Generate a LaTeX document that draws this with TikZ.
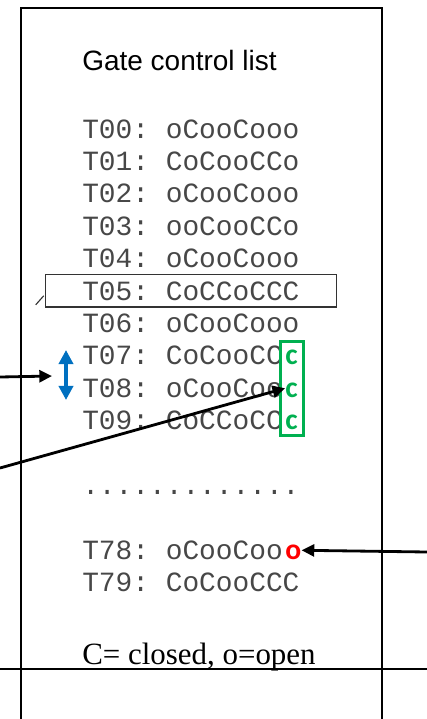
\documentclass[tikz,border=0pt]{standalone}
\usepackage{fontspec}
\setmainfont{Liberation Serif}
\setsansfont{Liberation Sans}
\setmonofont{Liberation Mono}
\newfontfamily\flagfont{Carlito}
\usetikzlibrary{positioning, arrows.meta, fit}

\definecolor{gclblue}{RGB}{0,112,192}
\definecolor{gclgreen}{RGB}{0,176,80}
\definecolor{gclred}{RGB}{255,0,0}

\begin{document}
\begin{tikzpicture}[
    x=0.025cm, y=-0.025cm,
    node distance=0.81cm,
    row/.style={
        anchor=base west,
        inner sep=0pt,
        text=black!72,
        font=\fontsize{19.8}{20}\selectfont\ttfamily
    },
    flag/.style={
        anchor=base west,
        inner sep=0pt,
        xshift=1.5pt,
        text height=13pt,
        font=\fontsize{21}{21}\selectfont\flagfont\bfseries
    },
    arrow/.style={-{Triangle[length=9pt, width=8.5pt]}, line width=2pt},
    swing/.style={{Triangle[length=10pt, width=10pt]}-{Triangle[length=10pt, width=10pt]}, line width=2.8pt, gclblue}
]
\useasboundingbox (0,0) rectangle (427,719);

% Frame
\draw[line width=1.4pt] (21,719) -- (21,8) -- (382,8) -- (382,719);
\draw[line width=1.4pt] (0,669) -- (427,669);

% Title
\node[anchor=base west, inner sep=0pt, font=\fontsize{19.9}{20}\selectfont\sffamily] (title) at (82,70) {Gate control list};

% List entries
\node[row] (t00) at (82,138) {T00: oCooCooo};
\node[below=of t00.base west, row] (t01) {T01: CoCooCCo};
\node[below=of t01.base west, row] (t02) {T02: oCooCooo};
\node[below=of t02.base west, row] (t03) {T03: ooCooCCo};
\node[below=of t03.base west, row] (t04) {T04: oCooCooo};
\node[below=of t04.base west, row] (t05) {T05: CoCCoCCC};
\node[below=of t05.base west, row] (t06) {T06: oCooCooo};
\node[below=of t06.base west, row] (t07) {T07: CoCooCC};
\node[below=of t07.base west, row] (t08) {T08: oCooCoo};
\node[below=of t08.base west, row] (t09) {T09: CoCCoCC};
\node[below=1.62cm of t09.base west, row] (dots) {.............};
\node[below=1.62cm of dots.base west, row] (t78) {T78: oCooCoo};
\node[below=of t78.base west, row] (t79) {T79: CoCooCCC};

% Current entry
\node[draw=black!80, line width=1pt, fit=(t05), inner xsep=26pt, inner ysep=4.6pt] (t05box) {};
\draw[black!80, line width=0.8pt] ([shift={(-9,-3)}]t05box.south west) -- ++(8,-9);

% Closed gates kept over three entries
\node[flag, text=gclgreen] (c07) at (t07.base east) {c};
\node[flag, text=gclgreen] (c08) at (t08.base east) {c};
\node[flag, text=gclgreen] (c09) at (t09.base east) {c};
\node[draw=gclgreen, line width=2.2pt, fit=(c07)(c09), inner xsep=3.6pt, inner ysep=3.5pt] (cbox) {};

% Open gate
\node[flag, text=gclred] (o78) at (t78.base east) {o};

% Interval
\coordinate (uptip) at (66,350);
\coordinate (dntip) at (66,400);
\draw[swing] (uptip) -- (dntip);

% Arrows
\coordinate (srcA) at (0,377);
\coordinate (dstA) at (52,376);
\coordinate (srcB) at (0,468);
\coordinate (srcC) at (427,552);
\draw[arrow] (srcA) -- (dstA);
\draw[arrow] (srcB) -- (c08.west);
\draw[arrow] (srcC) -- (o78.east);

% Legend
\node[below=1.83cm of t79.base west, anchor=base west, inner sep=0pt, font=\fontsize{22}{22}\selectfont] (legend) {C= closed, o=open};

\end{tikzpicture}
\end{document}
